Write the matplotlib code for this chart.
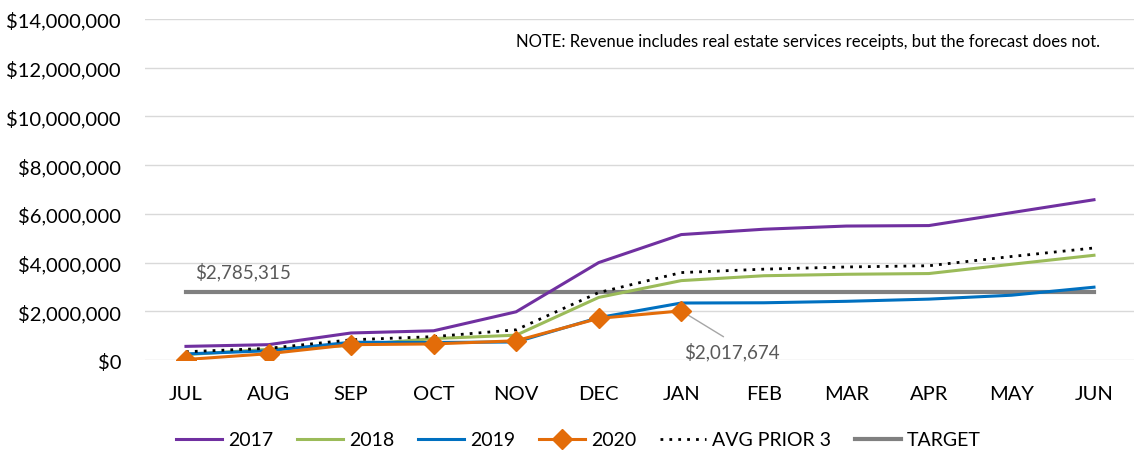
import matplotlib
matplotlib.use("Agg")
import matplotlib.pyplot as plt
from matplotlib.ticker import FuncFormatter

months = ["JUL", "AUG", "SEP", "OCT", "NOV", "DEC", "JAN", "FEB", "MAR", "APR", "MAY", "JUN"]

rev_2017 = [560000, 630000, 1110000, 1200000, 1980000, 4000000, 5150000, 5370000, 5500000, 5520000, 6050000, 6580000]
rev_2018 = [220000, 440000, 600000, 880000, 1020000, 2570000, 3260000, 3460000, 3520000, 3550000, 3930000, 4300000]
rev_2019 = [250000, 380000, 730000, 720000, 740000, 1740000, 2340000, 2350000, 2410000, 2500000, 2660000, 2990000]
rev_2020 = [20000, 260000, 630000, 660000, 790000, 1710000, 2017674]
avg_prior3 = [340000, 480000, 830000, 960000, 1240000, 2770000, 3590000, 3730000, 3820000, 3870000, 4250000, 4600000]
target = 2785315

plt.rcParams["font.family"] = ["Lato", "DejaVu Sans"]

fig = plt.figure(figsize=(11.34, 4.52), dpi=100)
ax = fig.add_axes([0.1276, 0.2013, 0.8735, 0.7544])

x = list(range(len(months)))
ax.plot(x, rev_2017, color="#7030A0", lw=2.2, label="2017", zorder=3)
ax.plot(x, rev_2018, color="#9BBB59", lw=2.2, label="2018", zorder=3)
ax.plot(x, rev_2019, color="#0070C0", lw=2.2, label="2019", zorder=3)
ax.plot(x[:len(rev_2020)], rev_2020, color="#E36C09", lw=2.2, marker="D",
        markersize=10, label="2020", zorder=5)
ax.plot(x, avg_prior3, color="black", lw=2.0, ls=(0, (1, 2.2)), label="AVG PRIOR 3", zorder=4)
ax.plot(x, [target] * len(months), color="#808080", lw=3, label="TARGET", zorder=2)

ax.set_xlim(-0.5, len(months) - 0.5)
ax.set_ylim(0, 14000000)
ax.set_yticks(range(0, 14000001, 2000000))
ax.yaxis.set_major_formatter(FuncFormatter(lambda v, p: "${:,.0f}".format(v)))
ax.set_xticks(x)
ax.set_xticklabels(months)
ax.tick_params(axis="both", length=0, labelsize=14.5, colors="black")
ax.tick_params(axis="x", pad=18)
ax.tick_params(axis="y", pad=17)
ax.grid(axis="y", color="#D9D9D9", lw=1)
ax.set_axisbelow(True)
for s in ax.spines.values():
    s.set_visible(False)

ax.text(0.11, 3650000, "${:,.0f}".format(target), fontsize=13.5, color="#595959",
        ha="left", va="center")
ax.annotate("${:,.0f}".format(rev_2020[-1]), xy=(6, rev_2020[-1]), xytext=(6.61, 370000),
            fontsize=13.5, color="#595959", ha="center", va="center",
            arrowprops=dict(arrowstyle="-", color="#A6A6A6", lw=1, relpos=(0.5, 1),
                            shrinkA=3, shrinkB=5))
ax.text(0.964, 0.935, "NOTE: Revenue includes real estate services receipts, but the forecast does not.",
        transform=ax.transAxes, fontsize=12, ha="right", va="center")

handles, labels = ax.get_legend_handles_labels()
fig.legend(handles, labels, loc="center", bbox_to_anchor=(0.51, 1 - 441 / 452), ncol=6,
           frameon=False, fontsize=14, handlelength=2.4, columnspacing=1.2, handletextpad=0.3)

fig.savefig("out.png", dpi=100)
